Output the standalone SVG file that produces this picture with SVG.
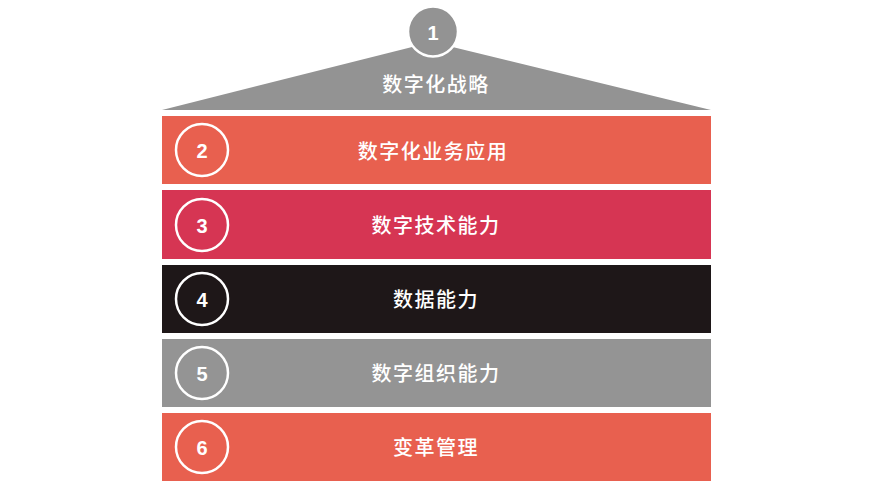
<svg xmlns="http://www.w3.org/2000/svg" width="893" height="482" viewBox="0 0 893 482">
<style>
.lbl{font-family:"Noto Sans CJK SC","Noto Sans",sans-serif;font-size:20px;font-weight:500;fill:#ffffff;text-anchor:middle;letter-spacing:1.5px}
.num{font-family:"Liberation Sans",Arial,sans-serif;font-size:20px;font-weight:700;fill:#ffffff;text-anchor:middle}
.ring{fill:none;stroke:#ffffff;stroke-width:2.5}
</style>
<rect width="893" height="482" fill="#ffffff"/>
<g id="node1">
<polygon points="162,110 432,42 711,110" fill="#939393"/>
<circle cx="433" cy="31.5" r="25" fill="#939393" stroke="#ffffff" stroke-width="2.5"/>
<text class="num" x="433" y="39.5" font-size="19">1</text>
<text class="lbl" x="436" y="91.5">数字化战略</text>
</g>
<g id="node2">
<rect x="162" y="116" width="549" height="68" fill="#e8604f"/>
<circle class="ring" cx="202" cy="150" r="26"/>
<text class="num" x="202" y="158">2</text>
<text class="lbl" x="433" y="158.5">数字化业务应用</text>
</g>
<g id="node3">
<rect x="162" y="190" width="549" height="69" fill="#d63553"/>
<circle class="ring" cx="202" cy="225" r="26"/>
<text class="num" x="202" y="233">3</text>
<text class="lbl" x="436" y="232.5">数字技术能力</text>
</g>
<g id="node4">
<rect x="162" y="265" width="549" height="68" fill="#1e1718"/>
<circle class="ring" cx="202" cy="299" r="26"/>
<text class="num" x="202" y="307">4</text>
<text class="lbl" x="436" y="306.5">数据能力</text>
</g>
<g id="node5">
<rect x="162" y="339" width="549" height="68" fill="#949494"/>
<circle class="ring" cx="202" cy="373" r="26"/>
<text class="num" x="202" y="381">5</text>
<text class="lbl" x="436" y="380.5">数字组织能力</text>
</g>
<g id="node6">
<rect x="162" y="413" width="549" height="68" fill="#e8604f"/>
<circle class="ring" cx="202" cy="447" r="26"/>
<text class="num" x="202" y="455">6</text>
<text class="lbl" x="436" y="454.5">变革管理</text>
</g>
<g id="connectors"></g>
</svg>
